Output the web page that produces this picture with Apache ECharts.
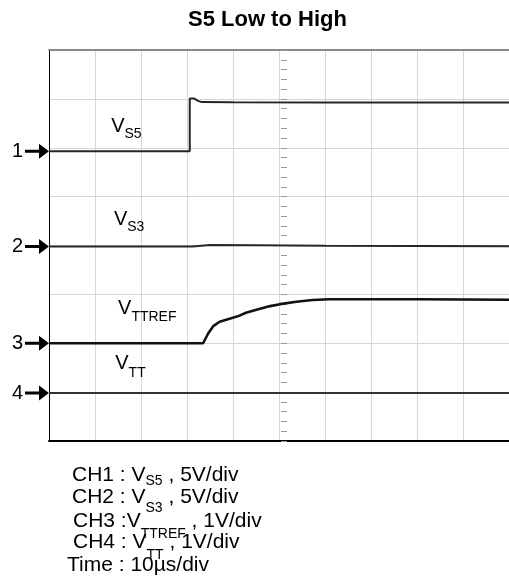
<!DOCTYPE html>
<html><head><meta charset="utf-8">
<script src="https://cdn.jsdelivr.net/npm/echarts@6/dist/echarts.min.js"></script>
<style>html,body{margin:0;padding:0;background:#fff}#c{width:509px;height:583px}</style>
</head><body><div id="c"></div>
<script>
// ---- data (time in µs, voltage in V) ----
const vs5Time = [0, 30.6, 30.6, 31.6, 32.4, 33.2, 40, 60, 80, 100];
const vs5Volt = [0, 0, 5.40, 5.38, 5.15, 5.02, 5.0, 4.98, 4.97, 4.97];
const vs3Time = [0, 31.2, 31.5, 35, 45, 60, 80, 100];
const vs3Volt = [0, 0, 0.20, 0.15, 0.12, 0.08, 0.05, 0.02];
const vttrefTime = [0, 33.5, 34.6, 35.7, 37.1, 39.6, 41.3, 42.8, 45.3, 48.1, 50.2, 53.8, 57.3, 60.9, 80, 100];
const vttrefVolt = [0, 0, 0.20, 0.35, 0.44, 0.51, 0.56, 0.625, 0.69, 0.76, 0.80, 0.85, 0.885, 0.90, 0.90, 0.89];
const vttTime = [0, 100];
const vttVolt = [0, 0];
const channelNames = ['1', '2', '3', '4'];
const traceSubs = ['S5', 'S3', 'TTREF', 'TT'];
const chScale = [5, 5, 1, 1];          // V/div
// ---- scope setup ----
const chGround = [5.93, 3.98, 2.0, 0.98];   // ground marker, divisions from bottom
const labelT = [13.4, 14.0, 14.9, 14.3];
const labelDy = [0.505, 0.56, 0.705, 0.61];
const subPad = [16, 17, 17, 20];

const FF = 'Liberation Sans, Arial, sans-serif';
const arrow = 'path://M0,6 L14,6 L14,0 L24,7.5 L14,15 L14,9 L0,9 Z';

function pts(ts, vs, ch) { return ts.map((t, i) => [t, chGround[ch] + vs[i] / chScale[ch]]); }

const traces = [
  [vs5Time, vs5Volt, '#262626', 2],
  [vs3Time, vs3Volt, '#262626', 2],
  [vttrefTime, vttrefVolt, '#111', 2.6],
  [vttTime, vttVolt, '#333', 2]
];

const series = traces.map((tr, ch) => ({
  type: 'line',
  data: pts(tr[0], tr[1], ch),
  showSymbol: false, symbol: 'none',
  lineStyle: { color: tr[2], width: tr[3] },
  z: 5,
  markPoint: {
    animation: false,
    data: [
      { coord: [0, chGround[ch]], symbol: arrow, symbolSize: [24, 15], symbolOffset: [-12, 0],
        itemStyle: { color: '#000' },
        label: { show: true, position: 'left', distance: 2, formatter: channelNames[ch],
                 fontSize: 20, fontFamily: FF, color: '#000' } },
      { coord: [labelT[ch], chGround[ch] + labelDy[ch]], symbol: 'circle', symbolSize: 1,
        itemStyle: { color: 'rgba(0,0,0,0)' },
        label: { show: true, position: 'right', distance: 0,
                 formatter: '{v|V}{s|' + traceSubs[ch] + '}',
                 rich: { v: { fontSize: 20, fontFamily: FF, color: '#000' },
                         s: { fontSize: 14, fontFamily: FF, color: '#000', padding: [subPad[ch], 0, 0, 0] } } } }
    ]
  }
}));

const hidden = { show: false };
function tickAxis(extra) {
  return Object.assign({
    type: 'value', axisLine: { show: false, onZero: false }, axisLabel: hidden, splitLine: hidden,
    axisTick: { show: true, length: 3, lineStyle: { color: '#999' } },
    minorTick: { show: true, splitNumber: 5, length: 3, lineStyle: { color: '#999' } }
  }, extra);
}

function line(text, left, top, pad) {
  const rich = {
    a: { fontSize: 21, fontFamily: FF, fontWeight: 'normal', color: '#000' },
    s: { fontSize: 14, fontFamily: FF, fontWeight: 'normal', color: '#000', padding: [pad, 0, 0, 0] }
  };
  return { text: text, left: left, top: top, padding: 0,
           textStyle: { fontWeight: 'normal', fontFamily: FF, rich: rich } };
}

const option = {
  animation: false,
  backgroundColor: '#fff',
  title: [
    { text: 'S5 Low to High', left: 188, top: 9, padding: 0,
      textStyle: { fontSize: 22, fontWeight: 'bold', fontFamily: FF, color: '#000' } },
    line('{a|CH1 : V}{s|S5}{a| , 5V/div}', 72, 461.3, 13),
    line('{a|CH2 : V}{s|S3}{a| , 5V/div}', 72, 480, 21),
    line('{a|CH3 :V}{s|TTREF}{a| , 1V/div}', 73, 500.8, 26),
    line('{a|CH4 : V}{s|TT}{a| , 1V/div}', 73, 522.5, 26),
    line('{a|Time : 10µs/div}', 67, 555, 0)
  ],
  grid: { left: 49, top: 50, width: 470, height: 391 },
  xAxis: [
    { type: 'value', min: 0, max: 100, interval: 10, position: 'bottom',
      axisLine: { show: true, onZero: false, lineStyle: { color: '#000', width: 2 } },
      axisTick: hidden, axisLabel: hidden,
      splitLine: { show: true, lineStyle: { color: '#d6d6d6', width: 1 } } },
    { type: 'value', min: 0, max: 100, interval: 10, position: 'top',
      axisLine: { show: true, onZero: false, lineStyle: { color: '#888', width: 2 } },
      axisTick: hidden, axisLabel: hidden, splitLine: hidden }
  ],
  yAxis: [
    { type: 'value', min: 0, max: 8, interval: 1, position: 'left',
      axisLine: { show: true, onZero: false, lineStyle: { color: '#000', width: 1 } },
      axisTick: hidden, axisLabel: hidden,
      splitLine: { show: true, lineStyle: { color: '#d6d6d6', width: 1 } } },
    tickAxis({ min: 0, max: 8, interval: 1, position: 'left', offset: -235 }),
    tickAxis({ min: 0, max: 8, interval: 1, position: 'left', offset: -235,
               axisTick: { show: true, inside: true, length: 3, lineStyle: { color: '#999' } } })
  ],
  series: series
};

echarts.init(document.getElementById('c'), null, { renderer: 'canvas' }).setOption(option);
</script>
</body></html>
